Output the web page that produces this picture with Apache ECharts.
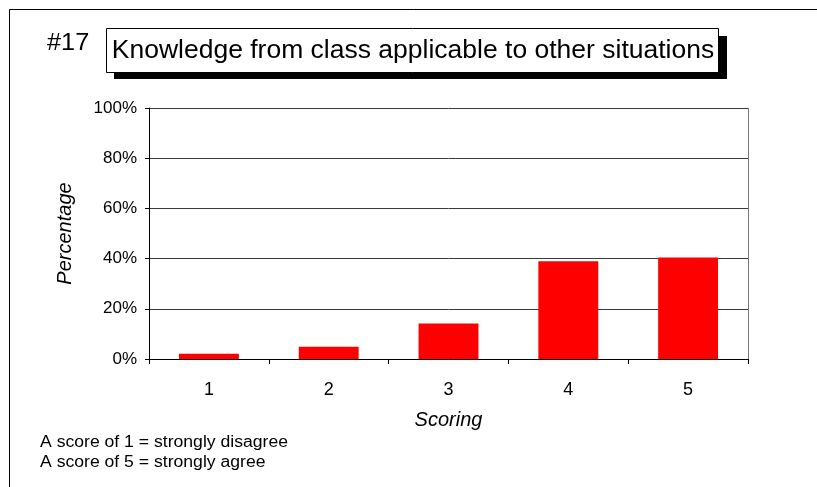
<!DOCTYPE html>
<html>
<head>
<meta charset="utf-8">
<script src="https://cdn.jsdelivr.net/npm/echarts@6/dist/echarts.min.js"></script>
<style>
  html, body { margin: 0; padding: 0; background: #fff; }
  #chart { width: 817px; height: 487px; }
</style>
</head>
<body>
<div id="chart"></div>
<script>
// data
const scores = ['1', '2', '3', '4', '5'];
const percentages = [2.1, 4.9, 14.1, 38.9, 40.4];
const yTicks = [0, 20, 40, 60, 80, 100];

const FONT = '"Liberation Sans", Arial, sans-serif';

const chart = echarts.init(document.getElementById('chart'));
const option = {
  animation: false,
  backgroundColor: '#fff',
  grid: { left: 149, right: 69, top: 108, bottom: 128 },
  xAxis: {
    type: 'category',
    data: scores,
    name: 'Scoring',
    nameLocation: 'middle',
    nameGap: 51,
    nameTextStyle: { fontFamily: FONT, fontSize: 20, fontStyle: 'italic', color: '#000' },
    axisLine: { lineStyle: { color: '#000', width: 1 } },
    axisTick: { show: true, length: 5, lineStyle: { color: '#000' } },
    axisLabel: { fontFamily: FONT, fontSize: 18, color: '#000', margin: 22 }
  },
  yAxis: {
    type: 'value',
    min: yTicks[0],
    max: yTicks[yTicks.length - 1],
    interval: 20,
    name: 'Percentage',
    nameLocation: 'middle',
    nameGap: 74,
    nameTextStyle: { fontFamily: FONT, fontSize: 20, fontStyle: 'italic', color: '#000' },
    axisLine: { show: true, lineStyle: { color: '#000', width: 1 } },
    axisTick: { show: true, length: 4, lineStyle: { color: '#000' } },
    axisLabel: { fontFamily: FONT, fontSize: 17, color: '#000', margin: 12, formatter: '{value}%' },
    splitLine: { show: true, lineStyle: { color: '#3a3a3a', width: 1 } }
  },
  series: [{
    type: 'bar',
    data: percentages,
    barWidth: '50%',
    itemStyle: { color: '#ff0000' }
  }],
  graphic: [
    // outer frame
    { type: 'rect', z: -10, shape: { x: 9.5, y: 9.5, width: 900, height: 600 },
      style: { fill: 'none', stroke: '#000', lineWidth: 1 } },
    // right border of plot area
    { type: 'line', shape: { x1: 748.5, y1: 108, x2: 748.5, y2: 364 },
      style: { stroke: '#777', lineWidth: 1 } },
    // title shadow + box
    { type: 'rect', shape: { x: 114, y: 36, width: 613, height: 43 }, style: { fill: '#000' } },
    { type: 'rect', shape: { x: 106.5, y: 28.5, width: 612, height: 44 },
      style: { fill: '#fff', stroke: '#000', lineWidth: 1 } },
    { type: 'text', x: 413, y: 51, scaleX: 1.06,
      style: { text: 'Knowledge from class applicable to other situations', font: '25px ' + FONT,
        fill: '#000', textAlign: 'center', textVerticalAlign: 'middle' } },
    { type: 'text', x: 47, y: 44, scaleX: 1.1,
      style: { text: '#17', font: '23px ' + FONT, fill: '#000', textVerticalAlign: 'middle' } },
    // footnotes
    { type: 'text', x: 40, y: 443, scaleX: 1.1,
      style: { text: 'A score of 1 = strongly disagree', font: '16px ' + FONT, fill: '#000', textVerticalAlign: 'middle' } },
    { type: 'text', x: 40, y: 463, scaleX: 1.1,
      style: { text: 'A score of 5 = strongly agree', font: '16px ' + FONT, fill: '#000', textVerticalAlign: 'middle' } }
  ]
};
chart.setOption(option);
</script>
</body>
</html>
